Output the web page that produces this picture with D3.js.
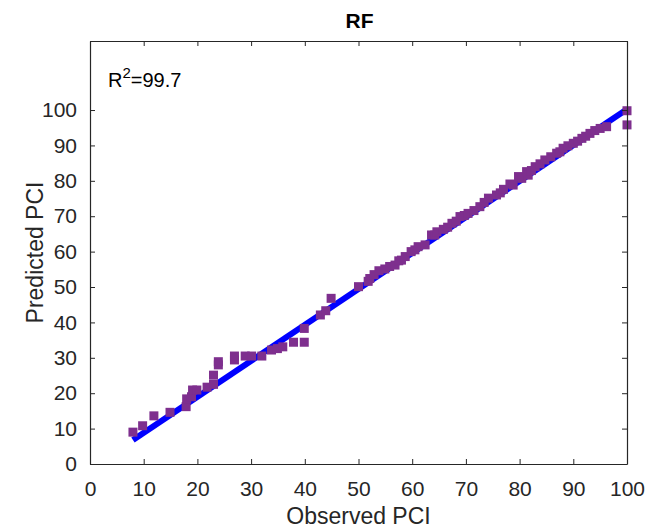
<!DOCTYPE html>
<html>
<head>
<meta charset="utf-8">
<script src="https://cdn.jsdelivr.net/npm/d3@7"></script>
<style>
  body { margin: 0; background: #fff; }
  svg { font-family: "Liberation Sans", Arial, Helvetica, sans-serif; }
</style>
</head>
<body>
<svg id="chart" width="658" height="528"></svg>
<script>
// observed vs predicted PCI
const observed = [8, 9.8, 11.9, 14.9, 17.9, 18, 18.9, 19.1, 19.9, 21.8, 23, 23, 23.9, 23.9,
  26.9, 26.9, 28.9, 30.1, 32, 33.8, 34.9, 35.9, 37.9, 39.9, 39.9, 42.9, 43.9, 44.9,
  50, 51.8, 52.1, 52.9, 53.8, 54.9, 55.8, 56.8, 57.5, 58, 58.7, 59.8, 60.5, 61.1, 62.4,
  63.6, 64.2, 64.6, 65.8, 66.6, 67.4, 68.2, 68.9, 69.7, 70.4, 71.5, 72.6, 73.4, 74.2,
  75.7, 76.4, 77, 78.2, 78.8, 79.8, 80.4, 81.3, 81.6, 82.2, 82.9, 83.8, 84.7, 85.8,
  86.9, 87.5, 88.1, 89, 90, 90.8, 91.6, 92.3, 93.1, 94, 95, 96.2, 100, 100];
const predicted = [9, 10.8, 13.6, 14.6, 16.2, 18.4, 19, 20.9, 20.9, 21.7, 22.5, 25.1, 28, 28.9,
  29.4, 30.5, 30.5, 30.5, 30.5, 32.2, 32.6, 33.1, 34.4, 34.4, 38.3, 42.1, 43.3, 46.8,
  50.1, 51.6, 52.4, 53.5, 54.6, 55.1, 55.8, 56.2, 57.4, 57.6, 58.6, 60, 60.5, 61.4, 61.9,
  64.7, 64.7, 65.6, 66.3, 66.9, 68, 68.6, 69.9, 70.2, 70.8, 71.6, 72.7, 73.9, 75.1,
  76, 76.6, 77.6, 79.1, 78.8, 81.2, 80.7, 82.6, 81.6, 82.9, 84, 84.8, 85.9, 86.8,
  87.8, 88.2, 89.2, 89.9, 90.6, 91.2, 92, 92.6, 93.4, 94.2, 94.8, 95.3, 99.8, 95.8];

// fitted line end points
const fitX = [8, 100];
const fitY = [6.8, 100.2];

const xTicks = [0, 10, 20, 30, 40, 50, 60, 70, 80, 90, 100];
const yTicks = [0, 10, 20, 30, 40, 50, 60, 70, 80, 90, 100];
const xDomain = [0, 100];
const yDomain = [0, 119.5];

const r2Text = "99.7";
const title = "RF";
const xTitle = "Observed PCI";
const yTitle = "Predicted PCI";

const svg = d3.select("#chart");
const L = 90, R = 627, T = 41, B = 464;
const axisColor = "#262626";

const x = d3.scaleLinear().domain(xDomain).range([L, R]);
const y = d3.scaleLinear().domain(yDomain).range([B, T]);

// fit line
svg.append("line")
  .attr("x1", x(fitX[0])).attr("y1", y(fitY[0]))
  .attr("x2", x(fitX[1])).attr("y2", y(fitY[1]))
  .attr("stroke", "#0000ff").attr("stroke-width", 6);

// markers
const ms = 9;
svg.append("g").selectAll("rect")
  .data(observed.map((d, i) => [d, predicted[i]]))
  .enter().append("rect")
  .attr("x", d => x(d[0]) - ms/2)
  .attr("y", d => y(d[1]) - ms/2)
  .attr("width", ms).attr("height", ms)
  .attr("fill", "#7e2f8e");

// axes (ticks inward, box on)
const tickLen = 5;
const fs = 21;
const axB = svg.append("g").attr("transform", `translate(0,${B})`)
  .call(d3.axisBottom(x).tickValues(xTicks).tickSizeInner(-tickLen).tickSizeOuter(0).tickPadding(17));
const axT = svg.append("g").attr("transform", `translate(0,${T})`)
  .call(d3.axisTop(x).tickValues(xTicks).tickSizeInner(-tickLen).tickSizeOuter(0).tickFormat(""));
const axL = svg.append("g").attr("transform", `translate(${L},0)`)
  .call(d3.axisLeft(y).tickValues(yTicks).tickSizeInner(-tickLen).tickSizeOuter(0).tickPadding(13));
const axR = svg.append("g").attr("transform", `translate(${R},0)`)
  .call(d3.axisRight(y).tickValues(yTicks).tickSizeInner(-tickLen).tickSizeOuter(0).tickFormat(""));

[axB, axT, axL, axR].forEach(a => {
  a.select(".domain").attr("stroke", axisColor).attr("stroke-width", 1.2);
  a.selectAll(".tick line").attr("stroke", axisColor);
  a.selectAll("text").attr("fill", axisColor).attr("font-size", fs)
    .attr("font-family", "'Liberation Sans', Arial, sans-serif");
});

// title and labels
svg.append("text").attr("x", (L + R) / 2 + 1).attr("y", 28)
  .attr("text-anchor", "middle").attr("font-size", 21).attr("font-weight", "bold")
  .attr("fill", "#000").text(title);

svg.append("text").attr("x", (L + R) / 2).attr("y", 524)
  .attr("text-anchor", "middle").attr("font-size", 23).attr("fill", axisColor).text(xTitle);

svg.append("text").attr("transform", `translate(43,${(T + B) / 2}) rotate(-90)`)
  .attr("text-anchor", "middle").attr("font-size", 23).attr("fill", axisColor).text(yTitle);

const r2 = svg.append("text").attr("x", 108).attr("y", 87)
  .attr("font-size", 20).attr("fill", "#000");
r2.append("tspan").text("R");
r2.append("tspan").attr("dy", -9).attr("font-size", 15).text("2");
r2.append("tspan").attr("dy", 9).text("=" + r2Text);
</script>
</body>
</html>
